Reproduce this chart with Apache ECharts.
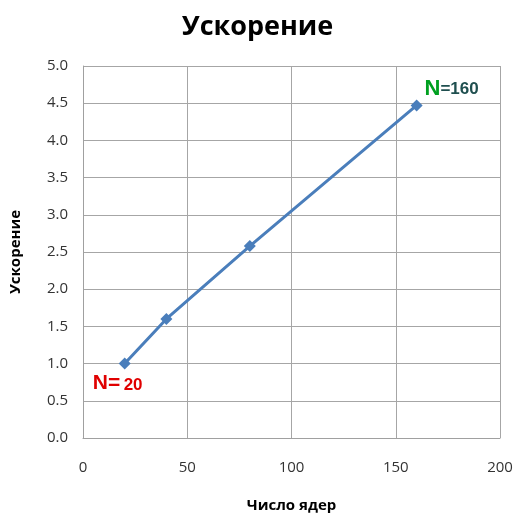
<!DOCTYPE html>
<html>
<head>
<meta charset="utf-8">
<script src="https://cdn.jsdelivr.net/npm/echarts@6/dist/echarts.min.js"></script>
<style>html,body{margin:0;padding:0;background:#fff}#c{width:515px;height:516px}</style>
</head>
<body>
<div id="c"></div>
<script>
const cores = [20, 40, 80, 160];
const speedup = [1.0, 1.6, 2.58, 4.47];
const xTicks = [0, 50, 100, 150, 200];
const yTicks = [0, 0.5, 1.0, 1.5, 2.0, 2.5, 3.0, 3.5, 4.0, 4.5, 5.0];

const chart = echarts.init(document.getElementById('c'));
const data = cores.map((c, i) => {
  const item = { value: [c, speedup[i]] };
  if (i === 0) {
    item.label = {
      show: true, position: 'bottom', offset: [-7, -2],
      formatter: '{n|N=} {v|20}',
      rich: {
        n: { color: '#e00000', fontSize: 21, fontWeight: 'bold', fontFamily: 'Liberation Sans' },
        v: { color: '#e00000', fontSize: 17, fontWeight: 'bold', fontFamily: 'Liberation Sans', padding: [4, 0, 0, 0] }
      }
    };
  } else if (i === cores.length - 1) {
    item.label = {
      show: true, position: 'top', offset: [35, 6],
      formatter: '{n|N}{v|=160}',
      rich: {
        n: { color: '#00a020', fontSize: 22, fontWeight: 'bold', fontFamily: 'Liberation Sans' },
        v: { color: '#1f4f4f', fontSize: 17, fontWeight: 'bold', fontFamily: 'Liberation Sans' }
      }
    };
  }
  return item;
});

chart.setOption({
  animation: false,
  title: {
    text: 'Ускорение', left: 'center', top: 9,
    textStyle: { fontSize: 27, fontWeight: 'bold', color: '#000', fontFamily: 'Open Sans' }
  },
  grid: { left: 83, right: 15, top: 66, bottom: 78, outerBoundsMode: 'none', containLabel: false },
  xAxis: {
    type: 'value', min: xTicks[0], max: xTicks[xTicks.length - 1], interval: 50,
    name: 'Число ядер', nameLocation: 'middle', nameGap: 60,
    nameTextStyle: { fontSize: 15, fontWeight: 'bold', color: '#000', fontFamily: 'Open Sans' },
    axisLine: { lineStyle: { color: '#a0a0a0', width: 1 } },
    axisTick: { show: false },
    axisLabel: { margin: 22, fontSize: 15, color: '#333', fontFamily: 'Open Sans' },
    splitLine: { show: true, lineStyle: { color: '#a6a6a6', width: 1 } }
  },
  yAxis: {
    type: 'value', min: yTicks[0], max: yTicks[yTicks.length - 1], interval: 0.5,
    name: 'Ускорение', nameLocation: 'middle', nameGap: 60, nameRotate: 90,
    nameTextStyle: { fontSize: 15, fontWeight: 'bold', color: '#000', fontFamily: 'Open Sans' },
    axisLine: { show: true, lineStyle: { color: '#a0a0a0', width: 1 } },
    axisTick: { show: false },
    axisLabel: { margin: 15, fontSize: 15, color: '#333', fontFamily: 'Open Sans', formatter: v => v.toFixed(1) },
    splitLine: { show: true, lineStyle: { color: '#a6a6a6', width: 1 } }
  },
  series: [{
    type: 'line', data: data,
    symbol: 'diamond', symbolSize: 12,
    lineStyle: { color: '#4a7ebb', width: 3 },
    itemStyle: { color: '#4a7ebb' }
  }]
});
</script>
</body>
</html>
